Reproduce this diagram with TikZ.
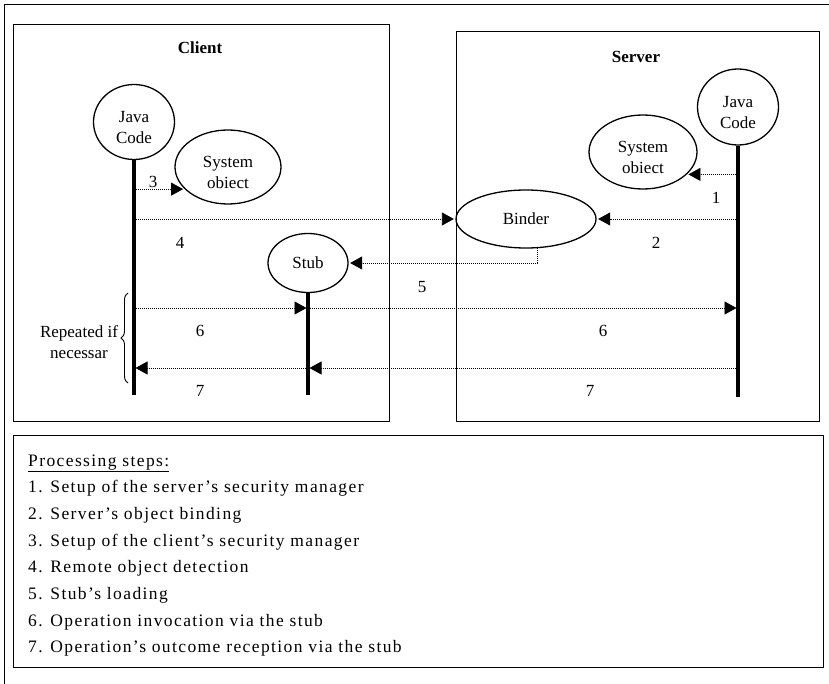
\documentclass[tikz,border=0pt]{standalone}
\usepackage{fontspec}
\setmainfont{Liberation Serif}
\newfontfamily\stepsfamily[LetterSpace=8]{Liberation Serif}
\usetikzlibrary{arrows.meta,shapes.geometric,decorations.pathreplacing}

\newcommand\diagfont{\fontsize{17}{21}\selectfont}
\newcommand\stepfont{\stepsfamily\fontsize{17.5}{20}\selectfont}

\tikzset{
  frame/.style={line width=1pt},
  panel/.style={draw, line width=1pt},
  obj/.style={ellipse, draw, line width=1.3pt, inner sep=0pt, align=center, font=\diagfont},
  twoline/.style={label={[font=\diagfont, align=center, inner sep=0pt, yshift=-5.5pt]center:#1}},
  lifeline/.style={line width=4pt},
  msg/.style={line width=0.8pt, dash pattern=on 1pt off 1pt,
    -{Triangle[length=12pt,width=13pt]}, shorten >=1.5pt},
  lbl/.style={font=\diagfont, inner sep=0pt},
  title/.style={font=\diagfont\bfseries, inner sep=0pt},
  stepline/.style={anchor=base west, inner sep=0pt, font=\stepfont},
}

\begin{document}
\begin{tikzpicture}[x=1pt,y=-1pt]
\useasboundingbox (0,0) rectangle (829,684);

% outer frame (only its top and left edges fall inside the page)
\draw[frame] (4,684) -- (4,5) -- (829,5);

% client and server panels
\draw[panel] (13,25) rectangle (389,421);
\draw[panel] (456,32) rectangle (819,421);
\node[title] (clienttitle) at (200,48) {Client};
\node[title] (servertitle) at (636,57) {Server};

% objects
\node[obj, minimum width=81, minimum height=75, twoline={Java\\Code}] (cjava) at (134,122) {};
\node[obj, minimum width=106, minimum height=74, twoline={System\\obiect}] (cso) at (228,167) {};
\node[obj, minimum width=80, minimum height=59] (stub) at (308,263) {Stub};
\node[obj, minimum width=81, minimum height=76, twoline={Java\\Code}] (sjava) at (738,107) {};
\node[obj, minimum width=108, minimum height=74, twoline={System\\obiect}] (sso) at (643,152) {};
\node[obj, minimum width=140, minimum height=58] (binder) at (526,219) {Binder};

% lifelines
\coordinate (cjbot) at (134,395);
\coordinate (stbot) at (308,395);
\coordinate (sjbot) at (738,397);
\draw[lifeline] (cjava.south) -- (cjbot);
\draw[lifeline] (stub.south) -- (stbot);
\draw[lifeline] (sjava.south) -- (sjbot);

% messages
\draw[msg, shorten <=2pt] (sjava.south |- sso.333) -- (sso.333);
\draw[msg, shorten <=2pt] (sjava.south |- binder.east) -- (binder.east);
\draw[msg, shorten <=2pt] (cjava.south |- cso.207) -- (cso.207);
\draw[msg, shorten <=2pt] (cjava.south |- binder.west) -- (binder.west);
\draw[msg] (binder.291) |- (stub.east);

\coordinate (c6) at (134,308);
\coordinate (c7) at (738,368);
\draw[msg, shorten <=2pt] (c6) -- (stub.south |- c6);
\draw[msg] (stub.south |- c6) -- (sjava.south |- c6);
\draw[msg, shorten <=2pt] (c7) -- (stub.south |- c7);
\draw[msg] (stub.south |- c7) -- (cjava.south |- c7);

% step numbers
\node[lbl] (n1) at (716,198) {1};
\node[lbl] (n2) at (656,243) {2};
\node[lbl] (n3) at (153,182) {3};
\node[lbl] (n4) at (180,243) {4};
\node[lbl] (n5) at (422,287) {5};
\node[lbl] (n6a) at (200,331) {6};
\node[lbl] (n6b) at (603,331) {6};
\node[lbl] (n7a) at (200,391) {7};
\node[lbl] (n7b) at (590,391) {7};

% repetition brace
\coordinate (brbot) at (128,383);
\coordinate (brtop) at (128,293);
\draw[line width=0.9pt, decorate, decoration={brace, amplitude=7pt}] (brbot) -- (brtop);
\node[lbl, align=center] (repeat) at (79,342) {Repeated if\\necessar};

% list of processing steps
\draw[panel] (13,435) rectangle (823,667);
\node[stepline] (s0) at (28,466) {\underline{Processing steps:}};
\node[stepline] (s1) at (28,492.7) {1. Setup of the server’s security manager};
\node[stepline] (s2) at (28,519.4) {2. Server’s object binding};
\node[stepline] (s3) at (28,546.1) {3. Setup of the client’s security manager};
\node[stepline] (s4) at (28,572.8) {4. Remote object detection};
\node[stepline] (s5) at (28,599.5) {5. Stub’s loading};
\node[stepline] (s6) at (28,626.2) {6. Operation invocation via the stub};
\node[stepline] (s7) at (28,652.9) {7. Operation’s outcome reception via the stub};
\end{tikzpicture}
\end{document}
